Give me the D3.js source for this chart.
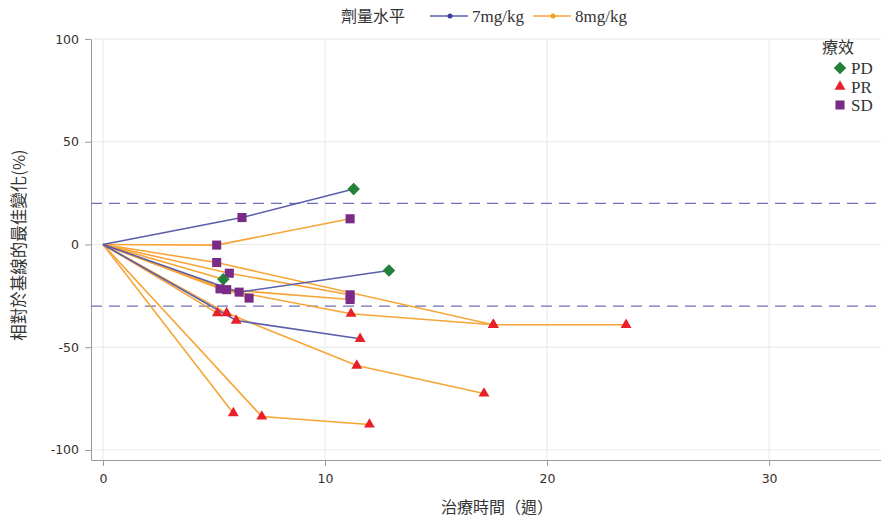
<!DOCTYPE html>
<html><head><meta charset="utf-8">
<script src="https://cdn.jsdelivr.net/npm/d3@7"></script>
<style>
body{margin:0;background:#fff;}
text{font-family:"DejaVu Sans",Verdana,sans-serif;}
.cjk{font-family:"Noto Sans CJK TC","Noto Sans CJK SC",sans-serif;}
.serif{font-family:"Liberation Serif","Times New Roman",serif;}
</style></head>
<body><svg id="c" width="881" height="519"></svg>
<script>
// dose groups
const doseLevels = ["7mg/kg", "8mg/kg"];
const doseColors = ["#5b5ea8", "#f7a536"];
const doseDotColors = ["#3d3f9a", "#f59a1c"];
// responses
const responses = ["PD", "PR", "SD"];
const responseColors = ["#25803a", "#e8202a", "#7a2a87"];
// patient series: weeks, change %, response
const patientDose = ["8mg/kg","8mg/kg","8mg/kg","8mg/kg","8mg/kg","8mg/kg","8mg/kg","8mg/kg","8mg/kg","8mg/kg","8mg/kg","7mg/kg","7mg/kg","7mg/kg"];
const patientWeeks = [
  [0, 5.12, 11.13],
  [0, 5.12, 17.58, 23.56],
  [0, 5.69, 11.13],
  [0, 5.42],
  [0, 5.27, 11.17, 17.58],
  [0, 5.57, 11.13],
  [0, 6.58],
  [0, 5.15],
  [0, 5.57, 11.43, 17.16],
  [0, 5.87],
  [0, 7.15, 12.0],
  [0, 6.26, 11.29],
  [0, 6.13, 12.88],
  [0, 6.0, 11.58]
];
const patientChange = [
  [0, -0.3, 12.5],
  [0, -8.8, -39.1, -39.1],
  [0, -14, -24.5],
  [0, -16.9],
  [0, -21.6, -33.7, -39.1],
  [0, -22, -26.8],
  [0, -26.1],
  [0, -33.4],
  [0, -33.4, -58.9, -72.5],
  [0, -82.1],
  [0, -83.7, -87.6],
  [0, 13.1, 27.0],
  [0, -23.2, -12.7],
  [0, -37, -45.9]
];
const patientResponse = [
  [null, "SD", "SD"],
  [null, "SD", "PR", "PR"],
  [null, "SD", "SD"],
  [null, "PD"],
  [null, "SD", "PR", "PR"],
  [null, "SD", "SD"],
  [null, "SD"],
  [null, "PR"],
  [null, "PR", "PR", "PR"],
  [null, "PR"],
  [null, "PR", "PR"],
  [null, "SD", "PD"],
  [null, "SD", "PD"],
  [null, "PR", "PR"]
];
const xTicks = [0, 10, 20, 30];
const yTicks = [-100, -50, 0, 50, 100];
const refLines = [20, -30];
const xTitle = "治療時間（週）";
const yTitle = "相對於基線的最佳變化(%)";
const doseTitle = "劑量水平";
const respTitle = "療效";

const svg = d3.select("#c");
const L = 91, R = 881, T = 39, B = 460;
const x = d3.scaleLinear().domain([-0.54, 35.04]).range([L, R]);
const y = d3.scaleLinear().domain([-104.9, 100]).range([B, T]);
const doseColor = d3.scaleOrdinal().domain(doseLevels).range(doseColors);
const respColor = d3.scaleOrdinal().domain(responses).range(responseColors);
const shape = d3.scaleOrdinal().domain(responses).range([d3.symbolDiamond2, d3.symbolTriangle2, d3.symbolSquare2]);
const shapeSize = d3.scaleOrdinal().domain(responses).range([100, 85, 105]);

// grid
const g = svg.append("g");
g.selectAll(".gx").data(xTicks).join("line")
  .attr("x1", d => x(d)).attr("x2", d => x(d)).attr("y1", T).attr("y2", B)
  .attr("stroke", "#e8e8e8").attr("stroke-width", 1);
g.selectAll(".gy").data(yTicks).join("line")
  .attr("x1", L).attr("x2", R).attr("y1", d => y(d)).attr("y2", d => y(d))
  .attr("stroke", "#e8e8e8").attr("stroke-width", 1);

// axes
const fmt = d => String(d);
const xAxis = svg.append("g").attr("transform", `translate(0,${B})`)
  .call(d3.axisBottom(x).tickValues(xTicks).tickFormat(fmt).tickSize(6).tickSizeOuter(0).tickPadding(8));
const yAxis = svg.append("g").attr("transform", `translate(${L},0)`)
  .call(d3.axisLeft(y).tickValues(yTicks).tickFormat(fmt).tickSize(6).tickSizeOuter(0).tickPadding(6));
[xAxis, yAxis].forEach(a => {
  a.select(".domain").attr("stroke", "#9a9a9a");
  a.selectAll(".tick line").attr("stroke", "#9a9a9a");
  a.selectAll(".tick text").attr("fill", "#3a2e28").attr("font-size", 12.5)
    .attr("font-family", "DejaVu Sans, Verdana, sans-serif");
});

// reference lines
svg.selectAll(".ref").data(refLines).join("line")
  .attr("x1", L).attr("x2", R).attr("y1", d => y(d)).attr("y2", d => y(d))
  .attr("stroke", "#6f72b6").attr("stroke-width", 1.3).attr("stroke-dasharray", "11,7");

// lines
const patients = patientWeeks.map((w, i) => ({
  dose: patientDose[i],
  pts: w.map((t, j) => ({t, v: patientChange[i][j], r: patientResponse[i][j]}))
}));
const line = d3.line().x(d => x(d.t)).y(d => y(d.v));
svg.append("g").selectAll("path").data(patients).join("path")
  .attr("d", d => line(d.pts)).attr("fill", "none")
  .attr("stroke", d => doseColor(d.dose)).attr("stroke-width", 1.6);

// markers
const marks = patients.flatMap(p => p.pts.filter(d => d.r));
svg.append("g").selectAll("path").data(marks).join("path")
  .attr("transform", d => `translate(${x(d.t)},${y(d.v)})`)
  .attr("d", d => d3.symbol().type(shape(d.r)).size(shapeSize(d.r))())
  .attr("fill", d => respColor(d.r));

// top legend
const lg = svg.append("g");
lg.append("text").attr("class", "cjk").attr("x", 341).attr("y", 22).attr("font-size", 16).attr("fill", "#333").text(doseTitle);
const lx = [430, 533];
doseLevels.forEach((d, i) => {
  lg.append("line").attr("x1", lx[i]).attr("x2", lx[i] + 38).attr("y1", 16).attr("y2", 16)
    .attr("stroke", doseColors[i]).attr("stroke-width", 1.6);
  lg.append("circle").attr("cx", lx[i] + 20).attr("cy", 16).attr("r", 2.5).attr("fill", doseDotColors[i]);
  lg.append("text").attr("class", "serif").attr("x", lx[i] + 42).attr("y", 22).attr("font-size", 17).attr("fill", "#333").text(d);
});

// right legend
const rg = svg.append("g");
rg.append("text").attr("class", "cjk").attr("x", 822).attr("y", 53).attr("font-size", 16).attr("fill", "#333").text(respTitle);
responses.forEach((r, i) => {
  const cy = 68 + i * 18.5;
  rg.append("path").attr("transform", `translate(840,${cy})`)
    .attr("d", d3.symbol().type(shape(r)).size(shapeSize(r))()).attr("fill", respColor(r));
  rg.append("text").attr("class", "serif").attr("x", 851).attr("y", cy + 6).attr("font-size", 17).attr("fill", "#333").text(r);
});

// axis titles
svg.append("text").attr("class", "cjk").attr("x", 497).attr("y", 513).attr("text-anchor", "middle")
  .attr("font-size", 16).attr("fill", "#333").text(xTitle);
svg.append("text").attr("class", "cjk").attr("transform", "translate(25,245) rotate(-90)").attr("text-anchor", "middle")
  .attr("font-size", 16.5).attr("fill", "#333").text(yTitle);
</script></body></html>
